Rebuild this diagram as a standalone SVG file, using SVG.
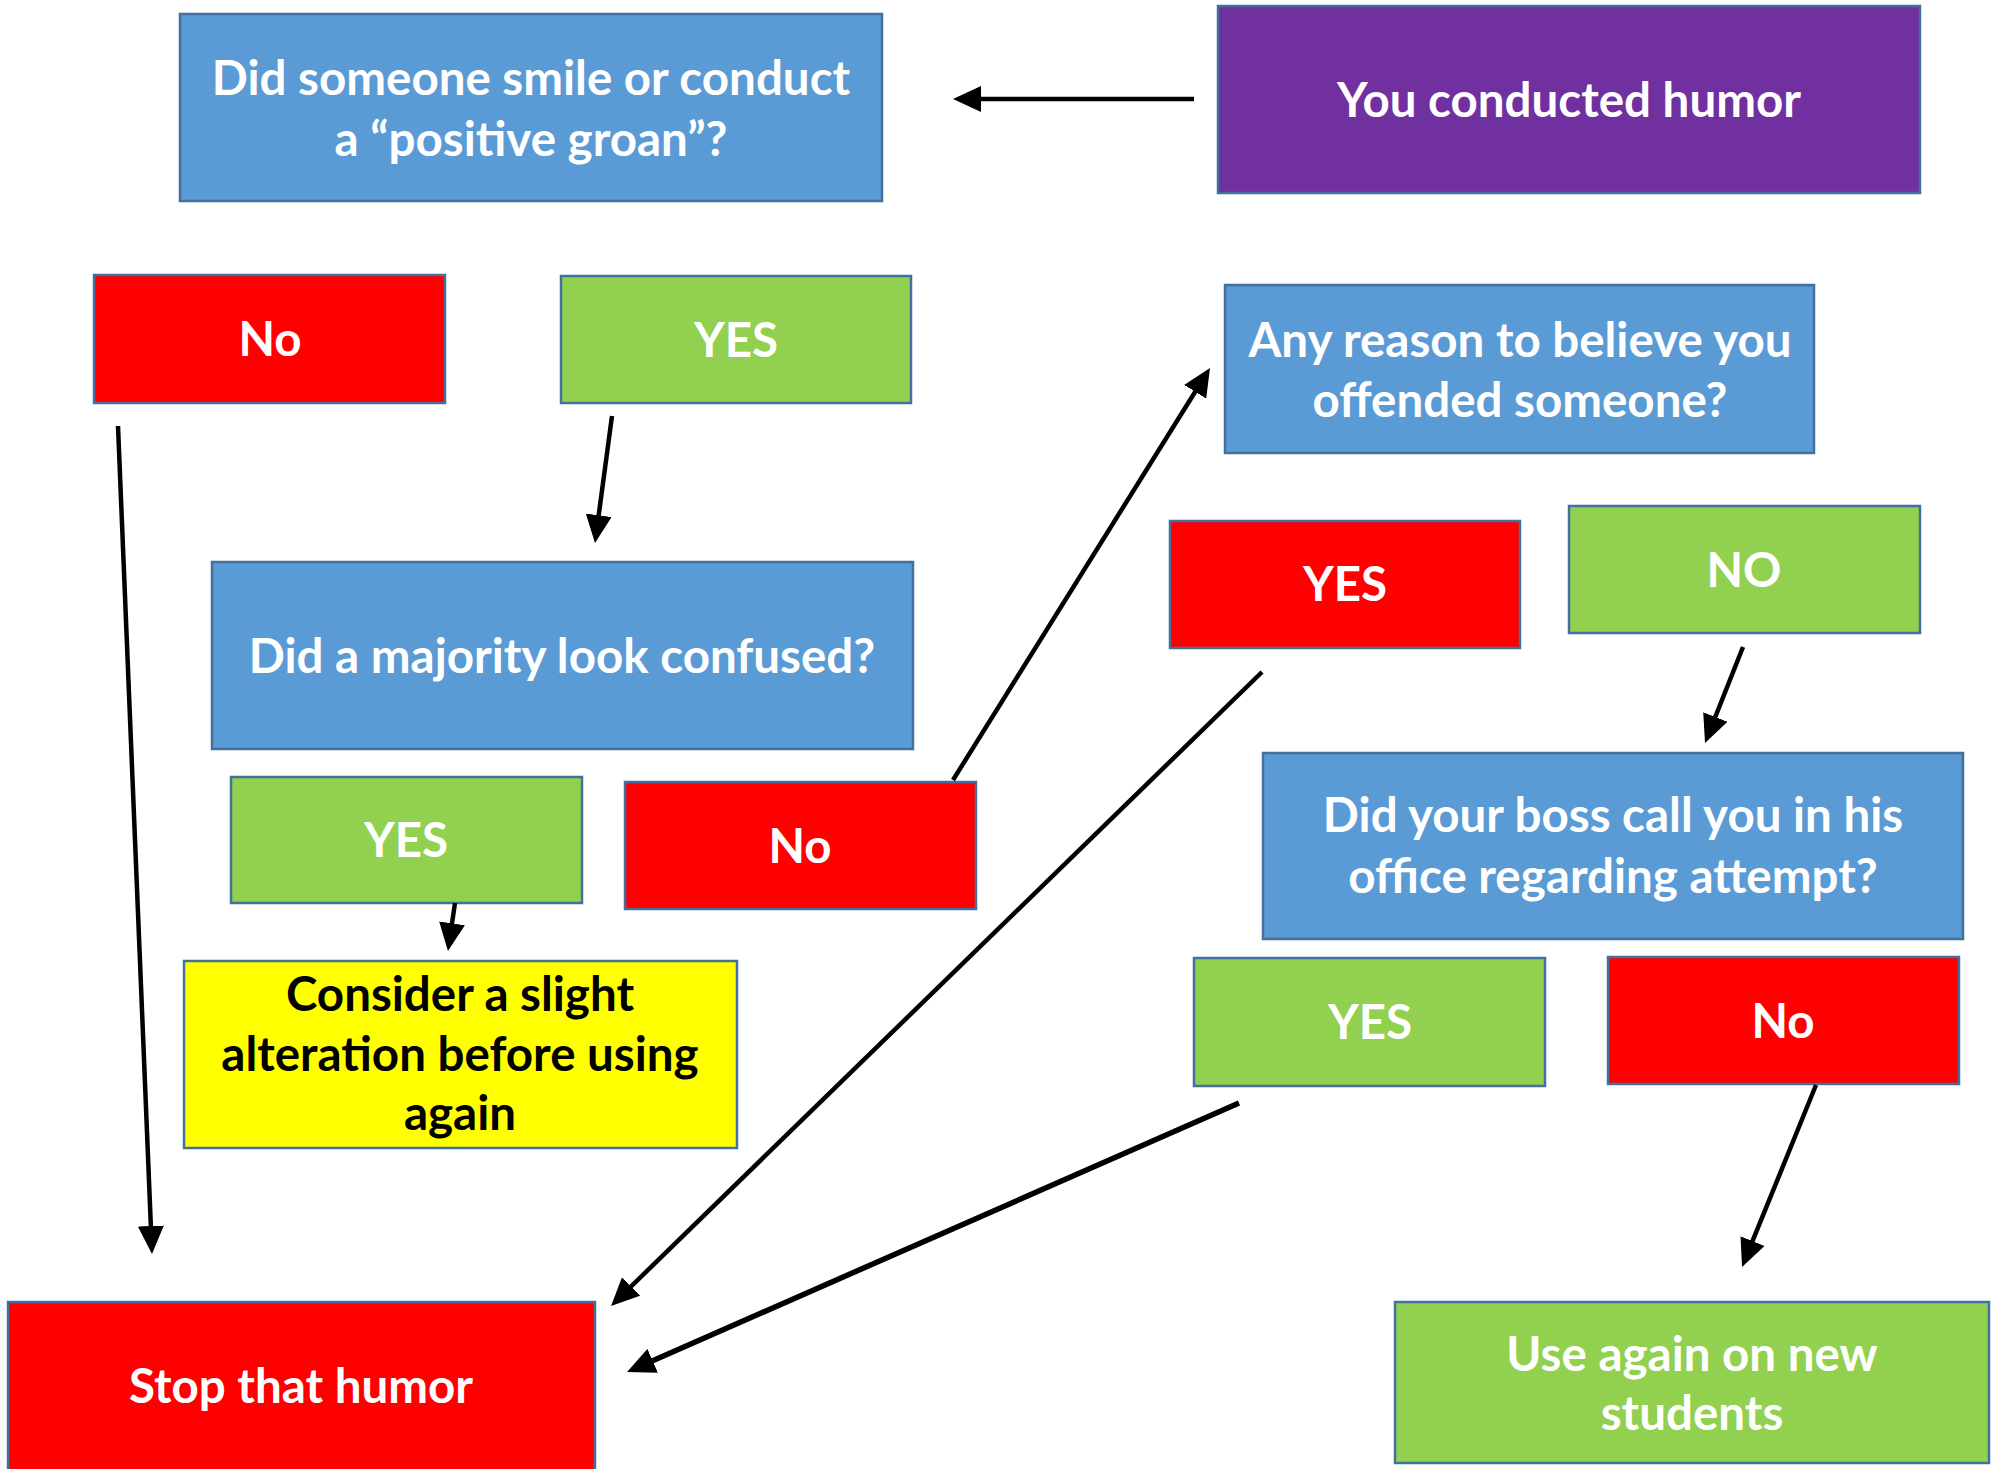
<svg xmlns="http://www.w3.org/2000/svg" width="2007" height="1469" viewBox="0 0 2007 1469">
<style>
.box{stroke:#41719C;stroke-width:2.5}
.blue{fill:#5B9BD5}.red{fill:#FF0000}.green{fill:#92D050}.purple{fill:#7030A0}.yellow{fill:#FFFF00}
text{font-family:Lato,"Open Sans","Liberation Sans",sans-serif;font-weight:bold;font-size:47.5px;fill:#FFFFFF;text-anchor:middle}
text.dark{fill:#000000}
.conn line{stroke:#000000;stroke-width:4.5;marker-end:url(#ah)}
</style>
<defs>
<marker id="ah" markerUnits="userSpaceOnUse" markerWidth="28" markerHeight="26" refX="18" refY="13" orient="auto" viewBox="0 0 28 26">
<path d="M0,0 L28,13 L0,26 z" fill="#000000"/>
</marker>
</defs>
<rect width="2007" height="1469" fill="#FFFFFF"/>
<g id="q1"><rect class="box blue" x="180" y="14" width="702" height="187"/><text x="531" y="95">Did someone smile or conduct</text><text x="531" y="156">a “positive groan”?</text></g>
<g id="start"><rect class="box purple" x="1218" y="6" width="702" height="187"/><text x="1569" y="117">You conducted humor</text></g>
<g id="q1no"><rect class="box red" x="94" y="275" width="351" height="128"/><text x="270" y="356">No</text></g>
<g id="q1yes"><rect class="box green" x="561" y="276" width="350" height="127"/><text x="736" y="357">YES</text></g>
<g id="q3"><rect class="box blue" x="1225" y="285" width="589" height="168"/><text x="1520" y="357">Any reason to believe you</text><text x="1520" y="417">offended someone?</text></g>
<g id="q2"><rect class="box blue" x="212" y="562" width="701" height="187"/><text x="562" y="673">Did a majority look confused?</text></g>
<g id="q2yes"><rect class="box green" x="231" y="777" width="351" height="126"/><text x="406" y="857">YES</text></g>
<g id="q2no"><rect class="box red" x="625" y="782" width="351" height="127"/><text x="800" y="863">No</text></g>
<g id="q3yes"><rect class="box red" x="1170" y="521" width="350" height="127"/><text x="1345" y="601">YES</text></g>
<g id="q3no"><rect class="box green" x="1569" y="506" width="351" height="127"/><text x="1744" y="587">NO</text></g>
<g id="q4"><rect class="box blue" x="1263" y="753" width="700" height="186"/><text x="1613" y="832">Did your boss call you in his</text><text x="1613" y="893">office regarding attempt?</text></g>
<g id="alter"><rect class="box yellow" x="184" y="961" width="553" height="187"/><text class="dark" x="460" y="1011">Consider a slight</text><text class="dark" x="460" y="1071">alteration before using</text><text class="dark" x="460" y="1130">again</text></g>
<g id="q4yes"><rect class="box green" x="1194" y="958" width="351" height="128"/><text x="1370" y="1039">YES</text></g>
<g id="q4no"><rect class="box red" x="1608" y="957" width="351" height="127"/><text x="1783" y="1038">No</text></g>
<g id="reuse"><rect class="box green" x="1395" y="1302" width="594" height="161"/><text x="1692" y="1371">Use again on new</text><text x="1692" y="1430">students</text></g>
<g id="stop"><rect class="box red" x="8" y="1302" width="587" height="200"/><text x="301" y="1403">Stop that humor</text></g>
<g id="connectors" class="conn">
<line x1="1194" y1="99" x2="963" y2="99"/>
<line x1="118" y1="426" x2="151.6" y2="1244"/>
<line x1="612" y1="416" x2="596.3" y2="533.1"/>
<line x1="455" y1="903" x2="449.4" y2="941.1"/>
<line x1="953" y1="780" x2="1204.7" y2="376.5"/>
<line x1="1262" y1="672" x2="618.2" y2="1299"/>
<line x1="1743" y1="647" x2="1708.7" y2="733.7"/>
<line x1="1239" y1="1103" x2="636.2" y2="1368" style="stroke-width:5.5"/>
<line x1="1816" y1="1085" x2="1745.8" y2="1257.7"/>
</g>
</svg>
